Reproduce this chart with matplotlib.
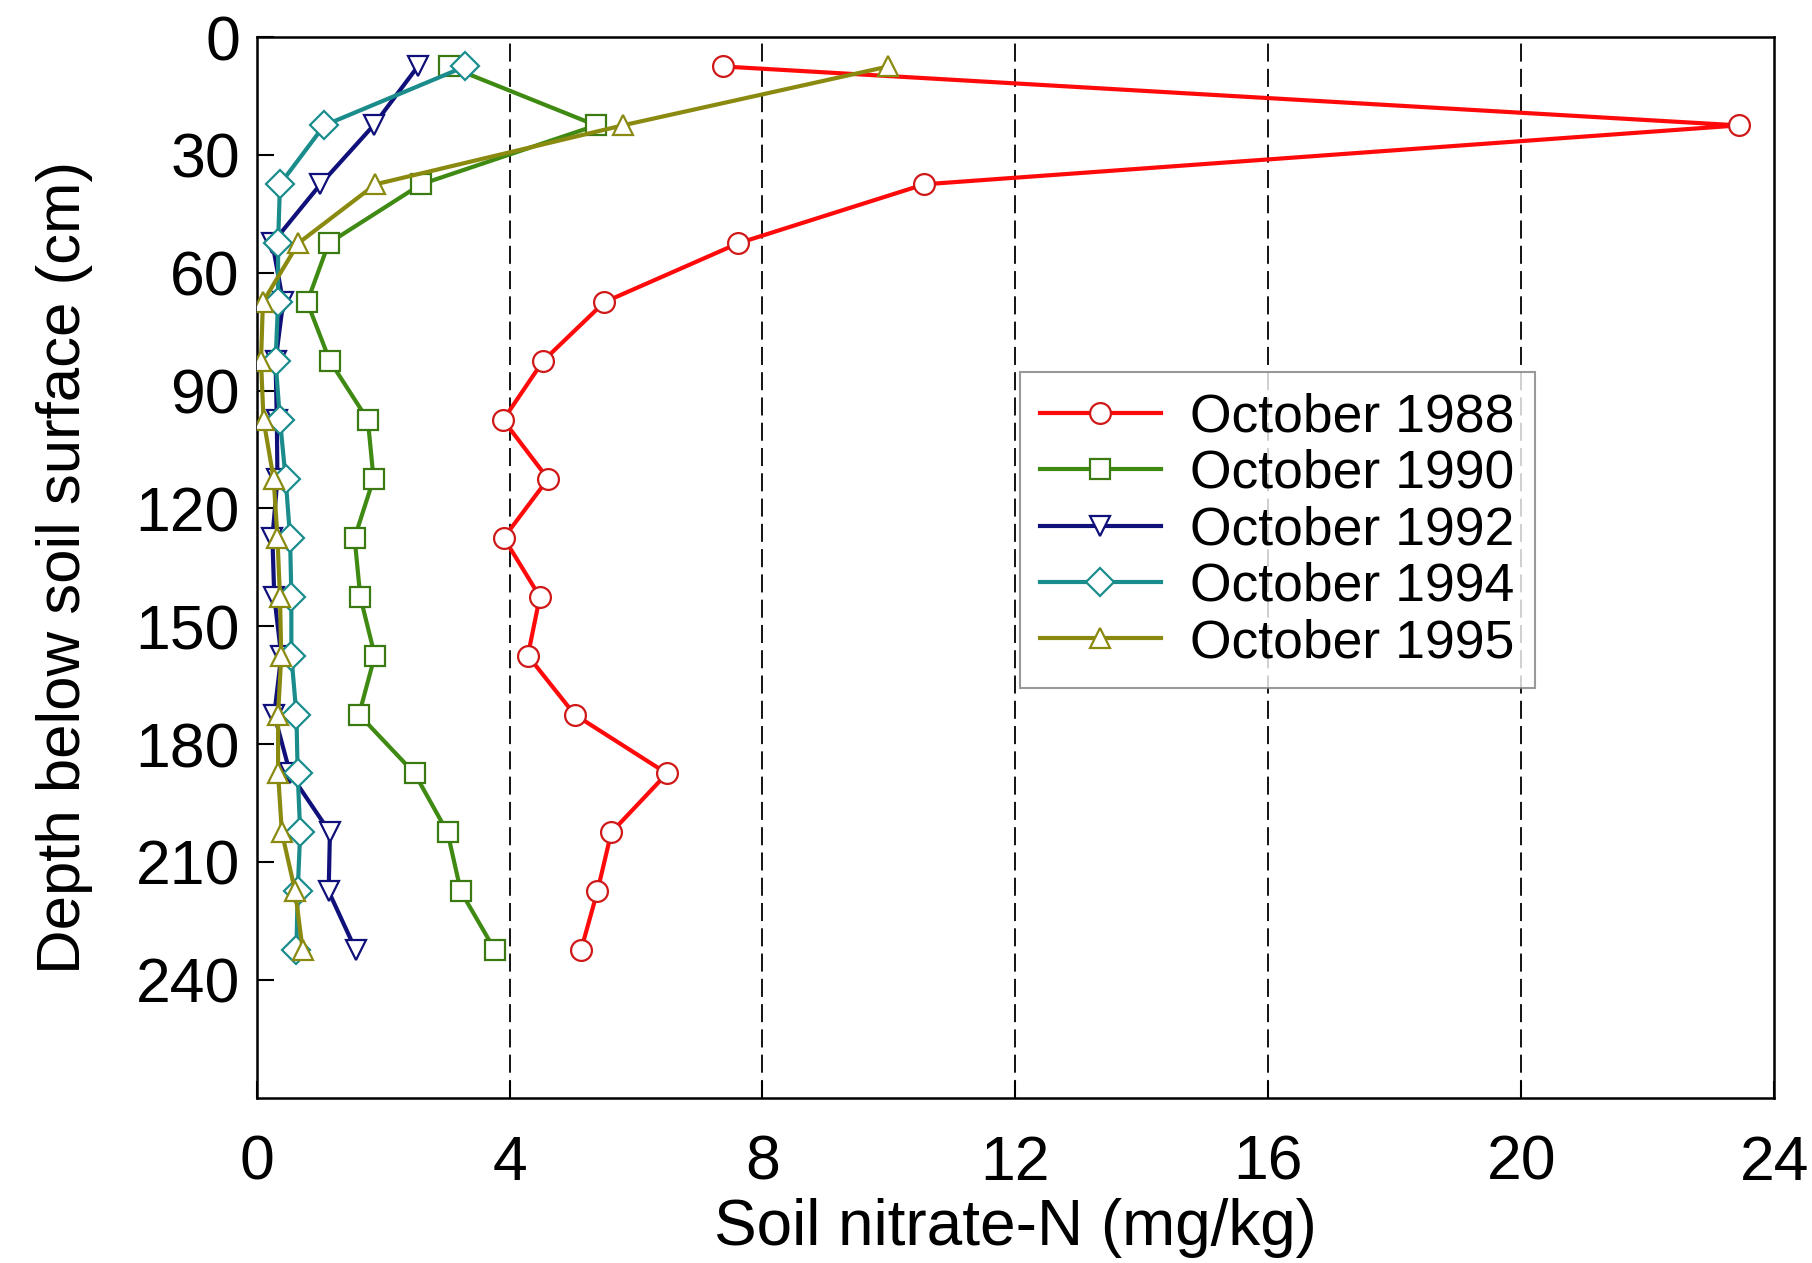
import matplotlib
matplotlib.use("Agg")
import matplotlib.pyplot as plt
from matplotlib.ticker import FixedLocator

plt.rcParams['font.family'] = ['Liberation Sans', 'DejaVu Sans']

depth = [7.5, 22.5, 37.5, 52.5, 67.5, 82.5, 97.5, 112.5, 127.5, 142.5,
         157.5, 172.5, 187.5, 202.5, 217.5, 232.5]

oct1988 = [7.38, 23.44, 10.56, 7.62, 5.50, 4.53, 3.90, 4.61, 3.91, 4.48,
           4.29, 5.03, 6.49, 5.61, 5.39, 5.13]
oct1990 = [3.05, 5.37, 2.60, 1.14, 0.80, 1.16, 1.76, 1.85, 1.55, 1.64,
           1.87, 1.62, 2.50, 3.02, 3.23, 3.77]
oct1992 = [2.55, 1.85, 1.01, 0.25, 0.42, 0.30, 0.32, 0.33, 0.25, 0.28,
           0.39, 0.28, 0.53, 1.16, 1.14, 1.57]
oct1994 = [3.30, 1.07, 0.37, 0.34, 0.34, 0.30, 0.37, 0.46, 0.53, 0.55,
           0.55, 0.63, 0.65, 0.69, 0.65, 0.63]
oct1995 = [9.99, 5.79, 1.88, 0.66, 0.10, 0.07, 0.11, 0.27, 0.33, 0.37,
           0.39, 0.34, 0.34, 0.40, 0.61, 0.73]

labels = ["October 1988", "October 1990", "October 1992", "October 1994", "October 1995"]
xticks = [0, 4, 8, 12, 16, 20, 24]
yticks = [0, 30, 60, 90, 120, 150, 180, 210, 240]

series = [oct1988, oct1990, oct1992, oct1994, oct1995]
colors = ['#ff0a0a', '#3f8a12', '#10107a', '#1a8c8c', '#8a8a10']
edge_colors = ['#d01818', '#3a7a10', '#10107a', '#1a8c8c', '#8a8a10']
markers = ['o', 's', 'v', 'D', '^']
msizes = [15, 14, 15, 14, 15]

fig = plt.figure(figsize=(18.12, 12.63), dpi=100)
ax = fig.add_axes([0.1416, 0.131, 0.8375, 0.8397])

for vals, lab, c, ec, m, ms in zip(series, labels, colors, edge_colors, markers, msizes):
    ax.plot(vals, depth, color=c, lw=3.0, marker=m, markersize=ms,
            markerfacecolor='white', markeredgecolor=ec, markeredgewidth=1.6,
            label=lab, zorder=3)

for xv in xticks[1:-1]:
    ax.axvline(xv, color='black', lw=1.3, ls=(0, (10, 4)), zorder=1)

ax.set_xlim(0, 24)
ax.set_ylim(270, 0)
ax.xaxis.set_major_locator(FixedLocator(xticks))
ax.yaxis.set_major_locator(FixedLocator(yticks))
ax.tick_params(axis='both', direction='in', length=12, width=1.5,
               top=False, right=False)
ax.tick_params(axis='x', labelsize=45, pad=26)
ax.tick_params(axis='y', labelsize=45, pad=12)
for s in ax.spines.values():
    s.set_linewidth(1.8)

ax.set_xlabel("Soil nitrate-N (mg/kg)", fontsize=46, labelpad=4)
ax.set_ylabel("Depth below soil surface (cm)", fontsize=44.5, labelpad=6)
ax.yaxis.set_label_coords(-0.108, 0.5)

leg = ax.legend(loc='upper left', bbox_to_anchor=(0.503, 0.684), fontsize=38.5,
                frameon=True, fancybox=False, edgecolor='#808080',
                handlelength=2.25, labelspacing=0.12, borderpad=0.38,
                handletextpad=0.55, borderaxespad=0)
leg.get_frame().set_linewidth(1.5)

fig.savefig("out.png", dpi=100)
